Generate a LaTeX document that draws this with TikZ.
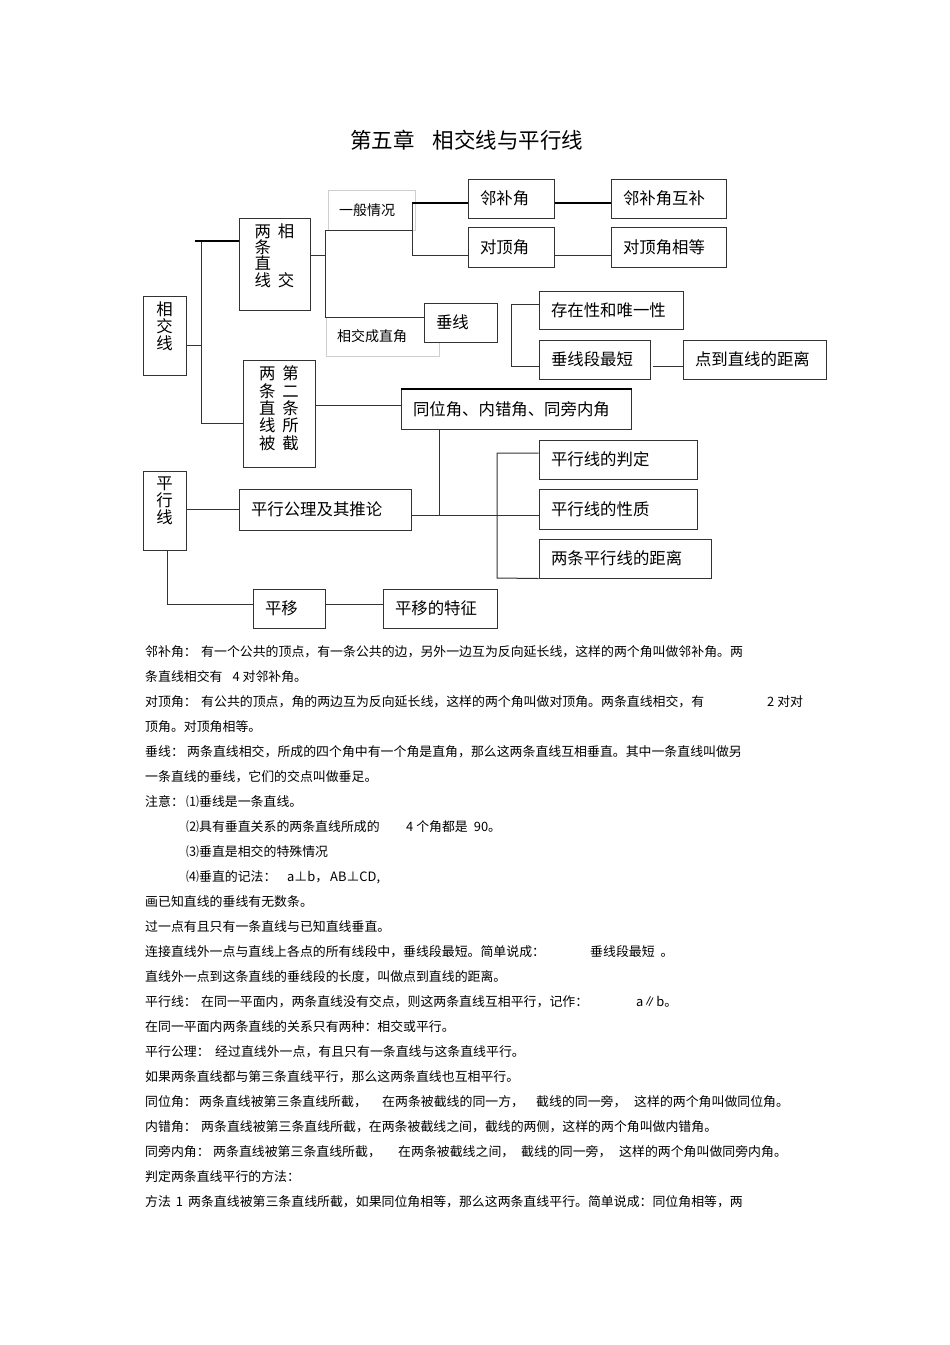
\documentclass[tikz,border=0pt]{standalone}
\usepackage{fontspec}
\setmainfont{Noto Sans CJK SC}

\definecolor{lc}{HTML}{333333}
\definecolor{gc}{HTML}{CFCFCF}

\newcommand\titlefont{\fontsize{21.5}{24}\selectfont}
\newcommand\boxfont{\fontsize{16.4}{16.7}\selectfont}
\newcommand\grayfont{\fontsize{14}{16}\selectfont}
\newcommand\txtfont{\fontsize{12.9}{15}\selectfont}
\renewcommand\arraystretch{0.4}

\tikzset{
  box/.style={draw=lc, line width=1pt, fill=white, inner xsep=12pt, inner ysep=0pt,
              minimum height=39pt, font=\boxfont, align=left},
  graybox/.style={draw=gc, line width=0.8pt, inner xsep=11pt, inner ysep=0pt,
                  font=\grayfont, align=left},
  ln/.style={lc, line width=1pt},
  thk/.style={black, line width=2pt},
  txt/.style={anchor=base west, inner sep=0pt, font=\txtfont},
}

\begin{document}
\begin{tikzpicture}[x=1pt, y=-1pt]

\fill[white] (0, 0) rectangle (950, 1345);
\useasboundingbox (0, 0) rectangle (950, 1345);

\node (title)[anchor=base west, inner sep=0pt, font=\titlefont] at (350, 148) {第五章\hspace{18pt}相交线与平行线};

% gray labels
\node (ybqk)[graybox, text width=65pt, minimum height=40pt] at (371.5, 210) {一般情况};
\node (xjczj)[graybox, text width=91pt, minimum height=39pt] at (382.5, 336.5) {相交成直角};

\node (xjx)[box, inner xsep=12pt] at (164.5, 335.5)
  {\parbox[c][79pt][t]{19pt}{\centering\vspace*{6pt}相\\交\\线}};
\node (lzxj)[box, inner xsep=12pt] at (274.5, 264)
  {\parbox[c][92pt][t]{47pt}{\centering\vspace*{6pt}%
   \begin{tabular}{@{}c@{\hspace{7pt}}c@{}}两&相\\[0.3pt]条&\\[0.3pt]直&\\[0.3pt]线&交\end{tabular}}};
\node (lzxb)[box, inner xsep=12pt] at (279, 413.5)
  {\parbox[c][107pt][t]{48pt}{\centering\vspace*{6pt}%
   \begin{tabular}{@{}c@{\hspace{7pt}}c@{}}两&第\\[1.5pt]条&二\\[1.5pt]直&条\\[1.5pt]线&所\\[1.5pt]被&截\end{tabular}}};

\node (cx)[box, text width=49pt] at (460.5, 322.5) {垂线};
\node (lbj)[box, text width=62pt] at (511, 198.5) {邻补角};
\node (lbjhb)[box, text width=91pt] at (668.5, 198.5) {邻补角互补};
\node (dbj)[box, text width=62pt, minimum height=40pt] at (511, 247) {对顶角};
\node (dbjxd)[box, text width=91pt, minimum height=40pt] at (668.5, 247) {对顶角相等};
\node (czx)[box, text width=120pt, minimum height=38pt] at (611, 310) {存在性和唯一性};
\node (cxdzd)[box, text width=87pt] at (594.5, 359.5) {垂线段最短};
\node (dzd)[box, text width=119pt] at (754.5, 359.5) {点到直线的距离};

\node (tbj)[box, text width=206pt, minimum height=40pt] at (516, 409) {同位角、内错角、同旁内角};
\node (pxx)[box, inner xsep=12pt] at (164.5, 510.5)
  {\parbox[c][79pt][t]{19pt}{\centering\vspace*{6pt}平\\行\\线}};
\node (pxgl)[box, text width=148pt, minimum height=41pt] at (325, 509.5) {平行公理及其推论};
\node (pxpd)[box, text width=134pt] at (618, 459.5) {平行线的判定};
\node (pxxz)[box, text width=134pt, minimum height=40pt] at (618, 509) {平行线的性质};
\node (lpjl)[box, text width=148pt] at (625, 558.5) {两条平行线的距离};
\node (py)[box, text width=48pt] at (289, 608.5) {平移};
\node (pytz)[box, text width=90pt] at (440, 608.5) {平移的特征};

\coordinate (ta) at (195, 241);
\coordinate (tb) at (201, 241);
\coordinate (tc) at (201, 345);
\coordinate (td) at (201, 423);
\coordinate (ua) at (325, 230);
\coordinate (ub) at (325, 255);
\coordinate (uc) at (325, 317);
\coordinate (va) at (412, 203);
\coordinate (vb) at (412, 230);
\coordinate (vc) at (412, 255);
\coordinate (wa) at (511, 304);
\coordinate (wb) at (511, 366);
\coordinate (wc) at (653, 366);
\coordinate (xa) at (315, 405);
\coordinate (ya) at (439, 515);
\coordinate (za) at (497, 453);
\coordinate (zb) at (497, 578);
\coordinate (pa) at (186, 509);
\coordinate (qa) at (167, 604);

\draw[ln] (tb) -- (td);
\draw[thk] (ta) -- (lzxj.west |- ta);
\draw[ln] (xjx.east |- tc) -- (tc);
\draw[ln] (td) -- (lzxb.west |- td);

\draw[ln] (lzxj.east |- ub) -- (ub);
\draw[ln] (ua) -- (uc) -- (cx.west |- uc);
\draw[ln] (ua) -- (vb);
\draw[ln] (va) -- (vc) -- (dbj.west |- vc);
\draw[thk] (va) -- (lbj.west |- va);
\draw[thk] (lbj.east |- va) -- (lbjhb.west |- va);
\draw[ln] (dbj.east |- vc) -- (dbjxd.west |- vc);

\draw[ln] (czx.west |- wa) -- (wa) -- (wb) -- (cxdzd.west |- wb);
\draw[ln] (wc) -- (dzd.west |- wc);

\draw[ln] (lzxb.east |- xa) -- (tbj.west |- xa);
\draw[thk] (tbj.north west) -- (tbj.north east);
\draw[ln] (tbj.south -| ya) -- (ya);
\draw[ln] (pxgl.east |- ya) -- (pxxz.west |- ya);
\draw[ln] (pxpd.west |- za) -- (za) -- (zb) -- (lpjl.south west);

\draw[ln] (pxx.east |- pa) -- (pxgl.west |- pa);
\draw[ln] (pxx.south -| qa) -- (qa) -- (py.west |- qa);
\draw[ln] (py.east |- qa) -- (pytz.west |- qa);

% notes
\node (l1a)[txt] at (145, 656) {邻补角：};
\node (l1b)[txt] at (201, 656) {有一个公共的顶点，有一条公共的边，另外一边互为反向延长线，这样的两个角叫做邻补角。两};
\node (l2)[txt] at (145, 681) {条直线相交有\hspace{10pt}4 对邻补角。};
\node (l3a)[txt] at (145, 706) {对顶角：};
\node (l3b)[txt] at (201, 706) {有公共的顶点，角的两边互为反向延长线，这样的两个角叫做对顶角。两条直线相交，有};
\node (l3c)[txt] at (767, 706) {2 对对};
\node (l4)[txt] at (145, 731) {顶角。对顶角相等。};
\node (l5a)[txt] at (145, 756) {垂线：};
\node (l5b)[txt] at (187, 756) {两条直线相交，所成的四个角中有一个角是直角，那么这两条直线互相垂直。其中一条直线叫做另};
\node (l6)[txt] at (145, 781) {一条直线的垂线，它们的交点叫做垂足。};
\node (l7a)[txt] at (145, 806) {注意：};
\node (l7b)[txt] at (186, 806) {⑴垂线是一条直线。};
\node (l8a)[txt] at (186, 831) {⑵具有垂直关系的两条直线所成的};
\node (l8b)[txt] at (406, 831) {4 个角都是\hspace{6pt}90。};
\node (l9)[txt] at (186, 856) {⑶垂直是相交的特殊情况};
\node (l10a)[txt] at (186, 881) {⑷垂直的记法：};
\node (l10b)[txt] at (287, 881) {a⊥b，\hspace{2pt}AB⊥CD,};
\node (l11)[txt] at (145, 906) {画已知直线的垂线有无数条。};
\node (l12)[txt] at (145, 931) {过一点有且只有一条直线与已知直线垂直。};
\node (l13a)[txt] at (145, 956) {连接直线外一点与直线上各点的所有线段中，垂线段最短。简单说成：};
\node (l13b)[txt] at (590, 956) {垂线段最短\hspace{6pt}。};
\node (l14)[txt] at (145, 981) {直线外一点到这条直线的垂线段的长度，叫做点到直线的距离。};
\node (l15a)[txt] at (145, 1006) {平行线：};
\node (l15b)[txt] at (201, 1006) {在同一平面内，两条直线没有交点，则这两条直线互相平行，记作：};
\node (l15c)[txt] at (636, 1006) {a∥b。};
\node (l16)[txt] at (145, 1031) {在同一平面内两条直线的关系只有两种：相交或平行。};
\node (l17a)[txt] at (145, 1056) {平行公理：};
\node (l17b)[txt] at (215, 1056) {经过直线外一点，有且只有一条直线与这条直线平行。};
\node (l18)[txt] at (145, 1081) {如果两条直线都与第三条直线平行，那么这两条直线也互相平行。};
\node (l19a)[txt] at (145, 1106) {同位角：};
\node (l19b)[txt] at (199, 1106) {两条直线被第三条直线所截，};
\node (l19c)[txt] at (382, 1106) {在两条被截线的同一方，};
\node (l19d)[txt] at (536, 1106) {截线的同一旁，};
\node (l19e)[txt] at (634, 1106) {这样的两个角叫做同位角。};
\node (l20a)[txt] at (145, 1131) {内错角：};
\node (l20b)[txt] at (201, 1131) {两条直线被第三条直线所截，在两条被截线之间，截线的两侧，这样的两个角叫做内错角。};
\node (l21a)[txt] at (145, 1156) {同旁内角：};
\node (l21b)[txt] at (213, 1156) {两条直线被第三条直线所截，};
\node (l21c)[txt] at (398, 1156) {在两条被截线之间，};
\node (l21d)[txt] at (521, 1156) {截线的同一旁，};
\node (l21e)[txt] at (619, 1156) {这样的两个角叫做同旁内角。};
\node (l22)[txt] at (145, 1181) {判定两条直线平行的方法：};
\node (l23)[txt] at (145, 1206) {方法\hspace{5pt}1\hspace{5pt}两条直线被第三条直线所截，如果同位角相等，那么这两条直线平行。简单说成：同位角相等，两};

\end{tikzpicture}
\end{document}
